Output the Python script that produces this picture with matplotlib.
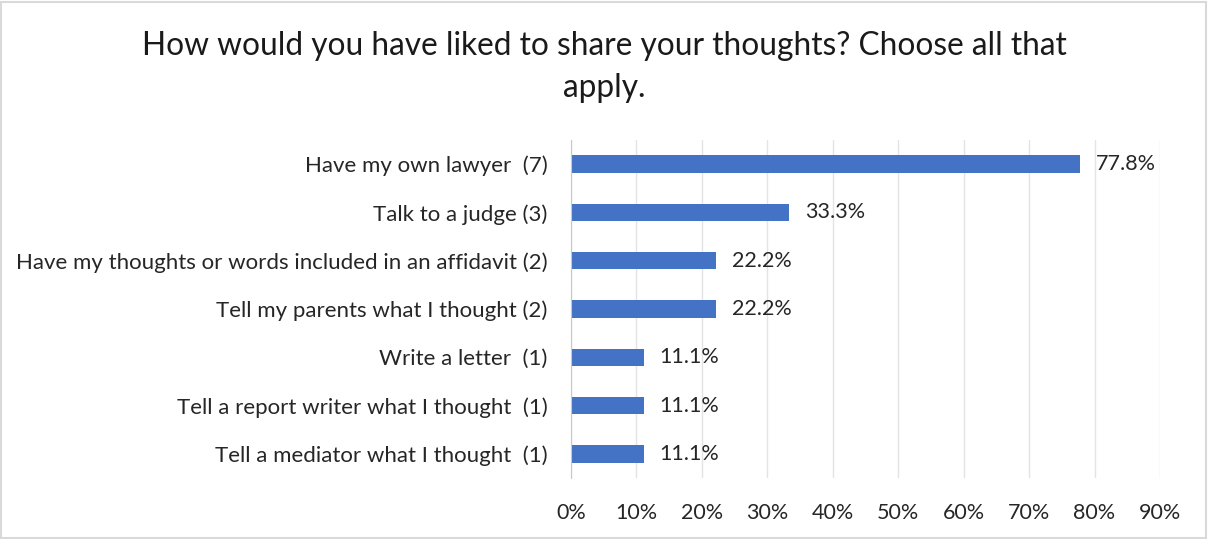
import matplotlib
matplotlib.use("Agg")
import matplotlib.pyplot as plt
from matplotlib.patches import Rectangle
from matplotlib.ticker import FuncFormatter, MultipleLocator

categories = [
    "Have my own lawyer  (7)",
    "Talk to a judge (3)",
    "Have my thoughts or words included in an affidavit (2)",
    "Tell my parents what I thought (2)",
    "Write a letter  (1)",
    "Tell a report writer what I thought  (1)",
    "Tell a mediator what I thought  (1)",
]
shares = [77.8, 33.3, 22.2, 22.2, 11.1, 11.1, 11.1]
title = "How would you have liked to share your thoughts? Choose all that\napply."

plt.rcParams["font.family"] = ["Lato", "DejaVu Sans"]

fig = plt.figure(figsize=(12.08, 5.39), dpi=100)
ax = fig.add_axes([571 / 1208, 1 - 478 / 539, (1160 - 571) / 1208, (478 - 140) / 539])

ypos = list(range(len(categories)))[::-1]
ax.barh(ypos, shares, height=0.36, color="#4472C4", zorder=3)
for y, v in zip(ypos, shares):
    ax.text(v + 2.4, y, f"{v:.1f}%", va="center", ha="left", fontsize=15.5, color="#262626")

ax.set_xlim(0, 90)
ax.set_ylim(-0.5, len(categories) - 0.5)
ax.xaxis.set_major_locator(MultipleLocator(10))
ax.xaxis.set_major_formatter(FuncFormatter(lambda v, p: f"{v:.0f}%"))
ax.set_yticks(ypos)
ax.set_yticklabels(categories)
ax.tick_params(axis="both", length=0, labelsize=15.5, labelcolor="#262626")
ax.tick_params(axis="y", labelsize=16, pad=17)
ax.tick_params(axis="x", pad=18)
ax.grid(axis="x", color="#e4e4e4", linewidth=1, zorder=0)
for s in ["top", "right", "bottom"]:
    ax.spines[s].set_visible(False)
ax.spines["left"].set_color("#c8c8c8")
ax.spines["left"].set_zorder(4)

fig.text(0.5, 1 - 67 / 539, title, ha="center", va="center", fontsize=22.8,
         color="#1a1a1a", linespacing=1.5)

fig.patches.append(Rectangle((0.001, 0.002), 0.997, 0.995, transform=fig.transFigure,
                             fill=False, edgecolor="#d9d9d9", linewidth=1.5))

fig.savefig("out.png", dpi=100)
